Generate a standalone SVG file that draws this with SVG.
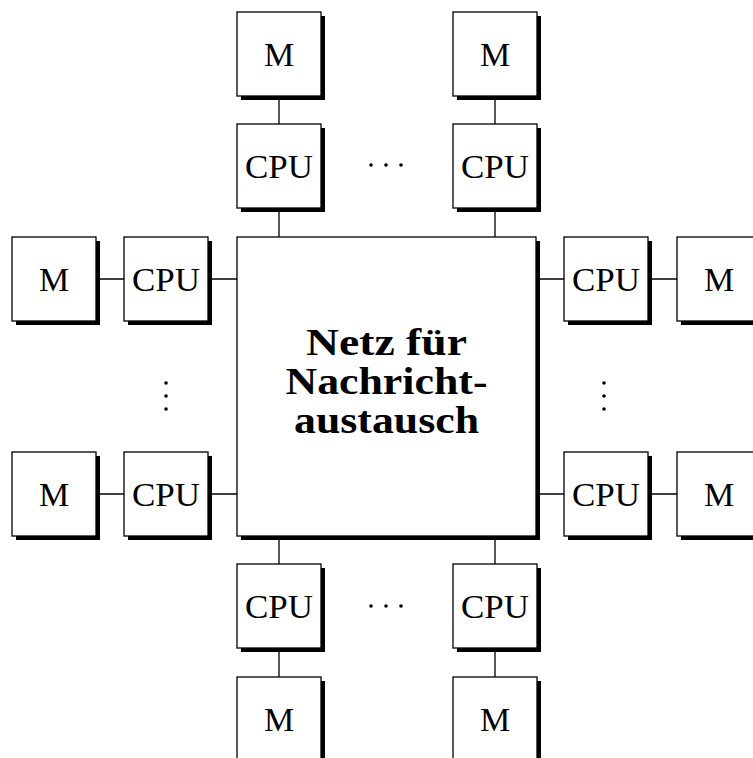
<svg xmlns="http://www.w3.org/2000/svg" width="753" height="758" viewBox="0 0 753 758">
<style>
.sh{fill:#000}
.bx{fill:#fff;stroke:#000;stroke-width:1.3}
.lb{font-family:"Liberation Serif","Times New Roman",serif;font-size:34px;text-anchor:middle;fill:#000}
.big{font-family:"Liberation Serif","Times New Roman",serif;font-size:37px;font-weight:bold;text-anchor:middle;fill:#000}
.cn{stroke:#000;stroke-width:1.3;fill:none}
.dot{fill:#000}
</style>
<defs>
<g id="sq"><rect class="sh" x="4" y="4" width="84" height="84"/><rect class="bx" x="0" y="0" width="84" height="84"/></g>
</defs>
<rect width="753" height="758" fill="#fff"/>
<g id="connectors">
<path class="cn" d="M279 97V124M279 209V237M495 97V124M495 209V237M279 536V564M279 648V677M495 536V564M495 648V677M97 279H124M209 279H237M97 494H124M209 494H237M536 279H564M648 279H677M536 494H564M648 494H677"/>
</g>
<g id="net">
<rect class="sh" x="241" y="241" width="299" height="299"/>
<rect class="bx" x="237" y="237" width="299" height="299"/>
<text class="big" x="386.5" y="355" textLength="161" lengthAdjust="spacingAndGlyphs">Netz für</text>
<text class="big" x="386.5" y="394" textLength="202" lengthAdjust="spacingAndGlyphs">Nachricht-</text>
<text class="big" x="386.5" y="433" textLength="185" lengthAdjust="spacingAndGlyphs">austausch</text>
</g>
<g id="m_top1"><use href="#sq" x="237" y="12"/><text class="lb" x="279" y="66">M</text></g>
<g id="m_top2"><use href="#sq" x="453" y="12"/><text class="lb" x="495" y="66">M</text></g>
<g id="cpu_top1"><use href="#sq" x="237" y="124"/><text class="lb" x="279" y="178" textLength="68" lengthAdjust="spacingAndGlyphs">CPU</text></g>
<g id="cpu_top2"><use href="#sq" x="453" y="124"/><text class="lb" x="495" y="178" textLength="68" lengthAdjust="spacingAndGlyphs">CPU</text></g>
<g id="m_left1"><use href="#sq" x="12" y="237"/><text class="lb" x="54" y="291">M</text></g>
<g id="cpu_left1"><use href="#sq" x="124" y="237"/><text class="lb" x="166" y="291" textLength="68" lengthAdjust="spacingAndGlyphs">CPU</text></g>
<g id="m_left2"><use href="#sq" x="12" y="452"/><text class="lb" x="54" y="506">M</text></g>
<g id="cpu_left2"><use href="#sq" x="124" y="452"/><text class="lb" x="166" y="506" textLength="68" lengthAdjust="spacingAndGlyphs">CPU</text></g>
<g id="cpu_right1"><use href="#sq" x="564" y="237"/><text class="lb" x="606" y="291" textLength="68" lengthAdjust="spacingAndGlyphs">CPU</text></g>
<g id="m_right1"><use href="#sq" x="677" y="237"/><text class="lb" x="719" y="291">M</text></g>
<g id="cpu_right2"><use href="#sq" x="564" y="452"/><text class="lb" x="606" y="506" textLength="68" lengthAdjust="spacingAndGlyphs">CPU</text></g>
<g id="m_right2"><use href="#sq" x="677" y="452"/><text class="lb" x="719" y="506">M</text></g>
<g id="cpu_bot1"><use href="#sq" x="237" y="564"/><text class="lb" x="279" y="618" textLength="68" lengthAdjust="spacingAndGlyphs">CPU</text></g>
<g id="cpu_bot2"><use href="#sq" x="453" y="564"/><text class="lb" x="495" y="618" textLength="68" lengthAdjust="spacingAndGlyphs">CPU</text></g>
<g id="m_bot1"><use href="#sq" x="237" y="677"/><text class="lb" x="279" y="731">M</text></g>
<g id="m_bot2"><use href="#sq" x="453" y="677"/><text class="lb" x="495" y="731">M</text></g>
<g id="dots">
<circle class="dot" cx="371" cy="165" r="1.8"/><circle class="dot" cx="386" cy="165" r="1.8"/><circle class="dot" cx="401" cy="165" r="1.8"/>
<circle class="dot" cx="371" cy="606" r="1.8"/><circle class="dot" cx="386" cy="606" r="1.8"/><circle class="dot" cx="401" cy="606" r="1.8"/>
<circle class="dot" cx="166" cy="383" r="1.8"/><circle class="dot" cx="166" cy="396" r="1.8"/><circle class="dot" cx="166" cy="409" r="1.8"/>
<circle class="dot" cx="604" cy="383" r="1.8"/><circle class="dot" cx="604" cy="396" r="1.8"/><circle class="dot" cx="604" cy="409" r="1.8"/>
</g>
</svg>
